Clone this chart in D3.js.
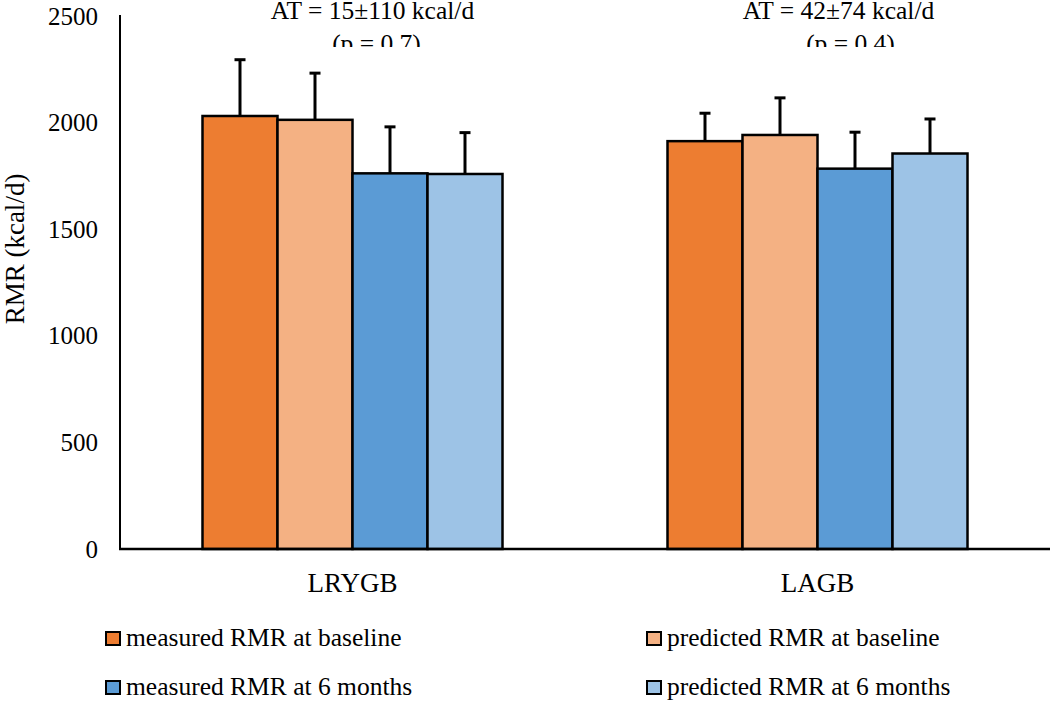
<!DOCTYPE html>
<html>
<head>
<meta charset="utf-8">
<script src="https://cdn.jsdelivr.net/npm/d3@7"></script>
<style>
  html, body { margin: 0; padding: 0; background: #fff; }
  svg { display: block; }
  text { font-family: "Liberation Serif", "Times New Roman", serif; fill: #000; }
</style>
</head>
<body>
<svg id="chart" width="1050" height="702"></svg>
<script>
const categories = ["LRYGB", "LAGB"];
const seriesNames = ["measured RMR at baseline", "predicted RMR at baseline", "measured RMR at 6 months", "predicted RMR at 6 months"];
const seriesColors = ["#ED7D31", "#F4B183", "#5B9BD5", "#9DC3E6"];
const measuredBaseline = [2031, 1913];
const predictedBaseline = [2013, 1942];
const measured6m = [1762, 1784];
const predicted6m = [1759, 1855];
const errMeasuredBaseline = [264, 131];
const errPredictedBaseline = [219, 174];
const errMeasured6m = [218, 171];
const errPredicted6m = [194, 162];
const yTicks = [0, 500, 1000, 1500, 2000, 2500];
const annotLine1 = ["AT = 15\u00B1110 kcal/d", "AT = 42\u00B174 kcal/d"];
const annotLine2 = ["(p = 0.7)", "(p = 0.4)"];

const values = [measuredBaseline, predictedBaseline, measured6m, predicted6m];
const errors = [errMeasuredBaseline, errPredictedBaseline, errMeasured6m, errPredicted6m];

const data = [];
categories.forEach((c, ci) => {
  seriesNames.forEach((s, si) => {
    data.push({cat: c, series: s, si, value: values[si][ci], err: errors[si][ci]});
  });
});

const svg = d3.select("#chart");
const mLeft = 120, mRight = 1050, mTop = 16, mBottom = 549;

const y = d3.scaleLinear().domain([0, 2500]).range([mBottom, mTop]);
const x0 = d3.scaleBand().domain(categories).range([mLeft, mRight]).paddingInner(0).paddingOuter(0);
const x1 = d3.scaleBand().domain(seriesNames).range([0, x0.bandwidth()]).paddingInner(0).paddingOuter(1.1);

// Y axis tick labels
const yAxis = d3.axisLeft(y).tickValues(yTicks).tickSize(0).tickPadding(22).tickFormat(d3.format("d"));
const gy = svg.append("g").attr("transform", `translate(${mLeft},0)`).call(yAxis);
gy.select(".domain").remove();
gy.selectAll("text").style("font-size", "25px").style("font-family", "'Liberation Serif', serif").attr("fill", "#000");

// Y axis title
svg.append("text")
  .attr("transform", `translate(24,249) rotate(-90)`)
  .attr("text-anchor", "middle")
  .style("font-size", "27px")
  .text("RMR (kcal/d)");

// Bars
const bars = svg.append("g");
bars.selectAll("rect").data(data).enter().append("rect")
  .attr("x", d => x0(d.cat) + x1(d.series))
  .attr("y", d => y(d.value))
  .attr("width", x1.bandwidth())
  .attr("height", d => y(0) - y(d.value))
  .attr("fill", d => seriesColors[d.si])
  .attr("stroke", "#000")
  .attr("stroke-width", 2.5);

// Error bars
const eb = svg.append("g").attr("stroke", "#000").attr("stroke-width", 3);
data.forEach(d => {
  const cx = x0(d.cat) + x1(d.series) + x1.bandwidth() / 2;
  eb.append("line").attr("x1", cx).attr("x2", cx).attr("y1", y(d.value)).attr("y2", y(d.value + d.err));
  eb.append("line").attr("x1", cx - 5.5).attr("x2", cx + 5.5).attr("y1", y(d.value + d.err)).attr("y2", y(d.value + d.err));
});

// Axis lines
svg.append("line").attr("x1", mLeft).attr("x2", mLeft).attr("y1", mTop - 1).attr("y2", mBottom + 1)
  .attr("stroke", "#000").attr("stroke-width", 2);
svg.append("line").attr("x1", mLeft - 1).attr("x2", mRight).attr("y1", mBottom).attr("y2", mBottom)
  .attr("stroke", "#000").attr("stroke-width", 2.5);

// X axis labels
const xAxis = d3.axisBottom(x0).tickSize(0).tickPadding(0);
const gx = svg.append("g").attr("transform", `translate(0,${mBottom})`).call(xAxis);
gx.select(".domain").remove();
gx.selectAll("text").attr("dy", null).attr("y", 43)
  .style("font-size", "27px").style("font-family", "'Liberation Serif', serif").attr("fill", "#000");

// Annotations (second line is cut off at its bottom, as in the reference)
const defs = svg.append("defs");
defs.append("clipPath").attr("id", "annClip").append("rect")
  .attr("x", 0).attr("y", 0).attr("width", 1050).attr("height", 47);
const ann = svg.append("g").attr("clip-path", "url(#annClip)");
const off1 = [20, 21], off2 = [24, 33];
categories.forEach((c, i) => {
  const cx = x0(c) + x0.bandwidth() / 2;
  ann.append("text").attr("x", cx + off1[i]).attr("y", 19).attr("text-anchor", "middle")
    .style("font-size", "25.5px").text(annotLine1[i]);
  ann.append("text").attr("x", cx + off2[i]).attr("y", 52).attr("text-anchor", "middle")
    .style("font-size", "25.5px").text(annotLine2[i]);
});

// Legend
const legendPos = [[106, 632], [647, 632], [106, 681], [647, 681]];
const lg = svg.append("g");
seriesNames.forEach((s, i) => {
  const [lx, ly] = legendPos[i];
  lg.append("rect").attr("x", lx).attr("y", ly).attr("width", 14).attr("height", 13)
    .attr("fill", seriesColors[i]).attr("stroke", "#000").attr("stroke-width", 2);
  lg.append("text").attr("x", lx + 20).attr("y", ly + 14)
    .style("font-size", "25.5px").text(s);
});
</script>
</body>
</html>
